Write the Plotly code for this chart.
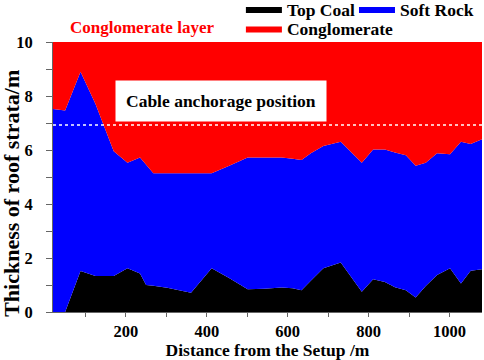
import plotly.graph_objects as go

# Distance from the setup (m)
distance = [20, 50, 88, 125, 170, 204, 235, 250, 268, 302, 361, 412, 454, 501, 542,
            585, 612, 634, 657, 688, 731, 783, 811, 840, 865, 892, 916, 941, 969,
            1001, 1028, 1052, 1080]
# Layer thicknesses (m)
top_coal = [0, 0, 1.52, 1.33, 1.33, 1.62, 1.43, 1.0, 0.97, 0.9, 0.71, 1.62, 1.27, 0.84,
            0.86, 0.91, 0.88, 0.81, 1.16, 1.62, 1.83, 0.75, 1.21, 1.11, 0.92, 0.81,
            0.54, 0.96, 1.37, 1.62, 1.06, 1.53, 1.58]
soft_rock = [7.52, 7.46, 7.38, 6.37, 4.62, 3.91, 4.29, 4.46, 4.17, 4.24, 4.43, 3.52,
             4.14, 4.88, 4.86, 4.81, 4.80, 4.82, 4.72, 4.53, 4.48, 4.78, 4.81, 4.91,
             4.99, 5.00, 4.88, 4.57, 4.51, 4.22, 5.25, 4.69, 4.82]
conglomerate = [2.48, 2.54, 1.10, 2.30, 4.05, 4.47, 4.28, 4.54, 4.86, 4.86, 4.86, 4.86,
                4.59, 4.28, 4.28, 4.28, 4.32, 4.37, 4.12, 3.85, 3.69, 4.47, 3.98, 3.98,
                4.09, 4.19, 4.58, 4.47, 4.12, 4.16, 3.69, 3.78, 3.60]
cable_anchor_y = 6.93

FONT = "Liberation Serif"

fig = go.Figure()
fig.add_trace(go.Scatter(x=distance, y=top_coal, name="Top Coal", mode="lines",
                         stackgroup="s", line=dict(width=0, color="#000000"),
                         fillcolor="#000000", legend="legend", showlegend=True))
fig.add_trace(go.Scatter(x=distance, y=soft_rock, name="Soft Rock", mode="lines",
                         stackgroup="s", line=dict(width=0, color="#0000FF"),
                         fillcolor="#0000FF", legend="legend2", showlegend=True))
fig.add_trace(go.Scatter(x=distance, y=conglomerate, name="Conglomerate", mode="lines",
                         stackgroup="s", line=dict(width=0, color="#FF0000"),
                         fillcolor="#FF0000", legend="legend3", showlegend=True))

fig.add_shape(type="line", xref="paper", x0=0, x1=1, yref="y", y0=cable_anchor_y,
              y1=cable_anchor_y, line=dict(color="white", width=1.5, dash="dot"))

fig.add_annotation(text="Cable anchorage position", xref="paper", yref="paper",
                   x=0.392, y=0.781, xanchor="center", yanchor="middle",
                   showarrow=False, bgcolor="white", borderpad=10,
                   font=dict(family=FONT, size=17.5, color="black", weight="bold"))
fig.add_annotation(text="Conglomerate layer", xref="paper", yref="paper",
                   x=0.207, y=1.052, xanchor="center", yanchor="middle", showarrow=False,
                   font=dict(family=FONT, size=17, color="#FF0000", weight="bold"))
fig.add_annotation(text="Thickness of roof strata/m", xref="paper", yref="paper",
                   x=-0.097, y=0.439, textangle=-90, showarrow=False,
                   xanchor="center", yanchor="middle",
                   font=dict(family=FONT, size=22, color="black", weight="bold"))

legend_font = dict(family=FONT, size=17.5, color="black", weight="bold")
leg_common = dict(orientation="h", xanchor="left", yanchor="middle", font=legend_font,
                  itemwidth=36, bgcolor="rgba(0,0,0,0)", visible=True)
fig.update_layout(
    width=484, height=360, showlegend=True,
    margin=dict(l=53, r=2, t=42, b=48, autoexpand=False),
    paper_bgcolor="white", plot_bgcolor="white",
    legend=dict(x=0.438, y=1.122, **leg_common),
    legend2=dict(x=0.7016, y=1.122, **leg_common),
    legend3=dict(x=0.438, y=1.05, **leg_common),
    xaxis=dict(range=[20, 1080], dtick=200, tick0=0, ticks="outside", ticklen=4,
               tickcolor="#666", showgrid=False, zeroline=False, showline=True,
               linecolor="#666", linewidth=1,
               minor=dict(dtick=100, ticks="outside", ticklen=4, tickcolor="#666"),
               tickfont=dict(family=FONT, size=16.5, color="black", weight="bold"),
               title=dict(text="Distance from the Setup /m", standoff=2,
                          font=dict(family=FONT, size=17.5, color="black", weight="bold"))),
    yaxis=dict(range=[0, 10], dtick=2, ticks="outside", ticklen=6, tickcolor="#666",
               showgrid=False, zeroline=False, showline=True, linecolor="#666",
               linewidth=1, ticklabelstandoff=10,
               minor=dict(dtick=1, ticks="outside", ticklen=6, tickcolor="#666"),
               tickfont=dict(family=FONT, size=16.5, color="black", weight="bold")),
)

# remove the default 8px page margin so the figure sits at the window's top-left
fig.write_html("out.html", config={"displayModeBar": False},
               post_script="document.body.style.margin='0';document.body.style.padding='0';")
